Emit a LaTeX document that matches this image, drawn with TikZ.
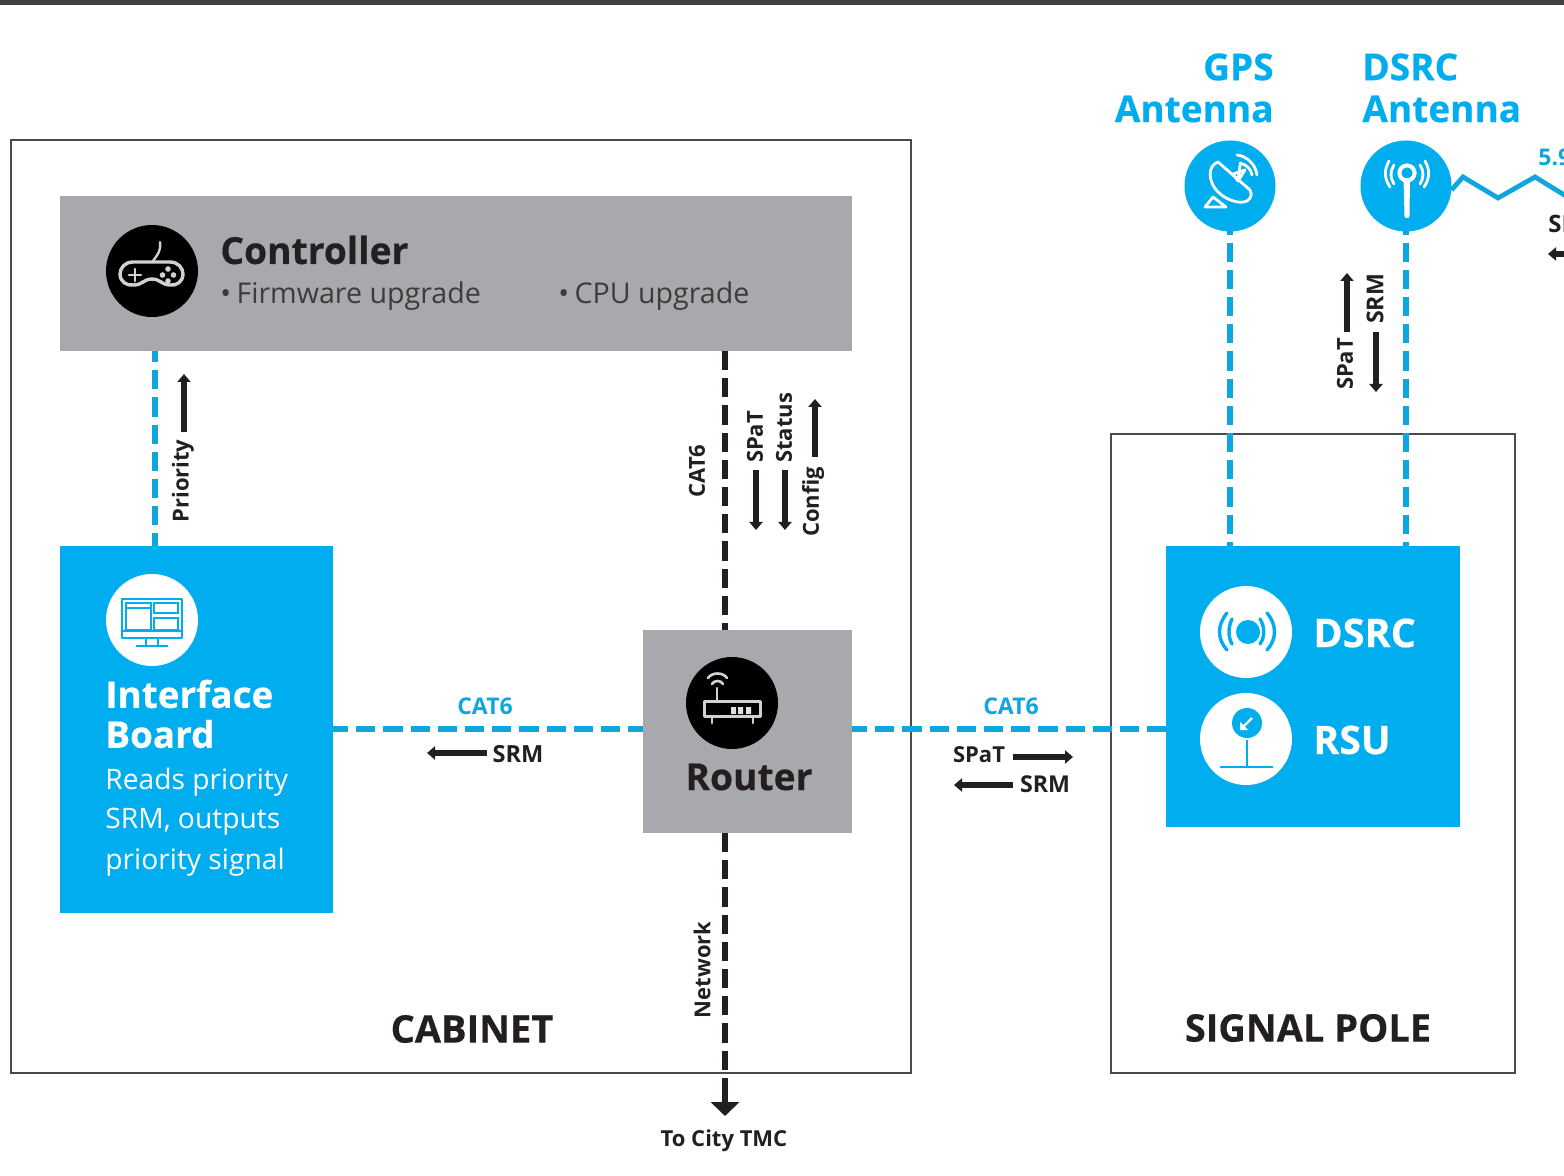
\documentclass[tikz,border=0pt]{standalone}
\usepackage{fontspec}
\setmainfont{Open Sans}
\usetikzlibrary{arrows.meta,calc}
\definecolor{skyb}{HTML}{00AEEF}
\definecolor{linkb}{HTML}{0FA6DE}
\definecolor{boxgray}{HTML}{A7A9AC}
\definecolor{ink}{HTML}{231F20}
\definecolor{frameg}{HTML}{4A4A4C}
\definecolor{topbar}{HTML}{414143}
\newcommand{\fsz}[1]{\fontsize{#1}{#1}\selectfont}
\newcommand{\heavy}{\bfseries\addfontfeature{FakeBold=0.4}}
\tikzset{
  px/.style={x=0.5pt,y=-0.5pt},
  solidbox/.style={inner sep=0,outer sep=0,rectangle},
  disc/.style={circle,inner sep=0,outer sep=0,minimum size=46pt},
  msg/.style={font=\bfseries\fsz{11},text=ink,inner sep=0},
  msgv/.style={msg,rotate=90},
  cablelbl/.style={font=\bfseries\fsz{11.5},text=linkb,inner sep=0},
  head/.style={font=\heavy\fsz{18.5},text=skyb,inner sep=0},
  bigw/.style={font=\heavy\fsz{#1},text=white,inner sep=0,anchor=west},
  bigk/.style={font=\heavy\fsz{#1},text=ink,inner sep=0},
  bodyk/.style={font=\fsz{14.3},text=ink!80!boxgray,inner sep=0,anchor=west},
  bodyw/.style={font=\fsz{14.1},text=white,inner sep=0,anchor=west},
  bluelink/.style={draw=linkb,line width=3pt,dash pattern=on 9.6pt off 4pt,dash phase=4pt},
  blacklink/.style={draw=ink,line width=3.2pt,dash pattern=on 9.6pt off 4pt},
  msgarrow/.style={draw=ink,line width=2.6pt,-{Triangle[length=4pt,width=6.5pt]}},
  iconw/.style={draw=white,line width=1.4pt,line cap=round,line join=round,fill=none},
  icong/.style={draw=black!18,line width=1.7pt,line cap=round,line join=round,fill=none},
}
\begin{document}
\begin{tikzpicture}[px]
\useasboundingbox (0,0) rectangle (1564,1176);
\fill[white] (0,0) rectangle (1564,1176);
\fill[topbar] (0,0) rectangle (1564,5);
\draw[frameg,line width=0.6pt] (11,140) rectangle (911,1073);
\draw[frameg,line width=0.6pt] (1111,434) rectangle (1515,1073);

% boxes
\node[solidbox,fill=boxgray,minimum width=396pt,minimum height=77.5pt] (ctrl) at (456,273.5) {};
\node[solidbox,fill=boxgray,minimum width=104.5pt,minimum height=101.5pt] (router) at (747.5,731.5) {};
\node[solidbox,fill=skyb,minimum width=136.5pt,minimum height=183.5pt] (iface) at (196.5,729.5) {};
\node[solidbox,fill=skyb,minimum width=147pt,minimum height=140.5pt] (dsrcbox) at (1313,686.5) {};
\node[disc,fill=skyb,minimum size=45.5pt] (gps) at (1230,186) {};
\node[disc,fill=skyb,minimum size=45.5pt] (ant) at (1406,186) {};
\node[disc,fill=black] (ctrlicon) at (152,271) {};
\node[disc,fill=black] (routericon) at (732,703) {};
\node[disc,fill=white] (ifaceicon) at (152,620) {};
\node[disc,fill=white] (dsrcicon) at (1246,632) {};
\node[disc,fill=white] (rsuicon) at (1246,739) {};
\coordinate (xprio) at (155,0);
\coordinate (xnet) at (725,0);
\coordinate (ylink) at (0,729);
\coordinate (tmc) at (725,1116);
\coordinate (xgps) at (1230,0);
\coordinate (xant) at (1406,0);

% connectors
\draw[bluelink] (ctrl.south -| xprio) -- (iface.north -| xprio);
\draw[blacklink] (ctrl.south -| xnet) -- (router.north -| xnet);
\coordinate (nete) at (725,1102);
\draw[blacklink,dash phase=0pt] (router.south -| xnet) -- (nete);
\coordinate (netb) at (725,1095);
\draw[ink,line width=3.2pt,-{Triangle[length=7pt,width=14pt]}] (netb) -- (tmc);
\draw[bluelink,dash phase=2pt] (iface.east |- ylink) -- (router.west |- ylink);
\draw[bluelink,dash phase=2pt] (router.east |- ylink) -- (dsrcbox.west |- ylink);
\draw[bluelink,dash phase=8pt] (gps.south) -- (dsrcbox.north -| xgps);
\draw[bluelink,dash phase=8pt] (ant.south) -- (dsrcbox.north -| xant);
\coordinate (wa) at (1463,177); \coordinate (wb) at (1498,198); \coordinate (wc) at (1535,177); \coordinate (wd) at (1566,196);
\draw[linkb,line width=2.4pt,line join=miter] (ant.east) ++(0,4) -- (wa) -- (wb) -- (wc) -- (wd);

% titles
\node[head,anchor=east] at (1274,67) {GPS};
\node[head,anchor=east] at (1274,109) {Antenna};
\node[head,anchor=west] at (1362,67) {DSRC};
\node[head,anchor=west] at (1362,109) {Antenna};
\begin{scope}
\clip (1500,130) rectangle (1564,270);
\node[cablelbl,anchor=west] at (1538,157) {5.9};
\node[msg,font=\bfseries\fsz{12},anchor=west] at (1548,224) {SRM};
\coordinate (rs) at (1580,254); \coordinate (re) at (1548,254);
\draw[msgarrow] (rs) -- (re);
\end{scope}

% box texts
\node[bigk=18.6,anchor=west] at (220,250) {Controller};
\node[bodyk] at (220,296) {•\hspace{-1pt} Firmware upgrade};
\node[bodyk] at (558,296) {•\hspace{-1pt} CPU upgrade};
\node[bigk=18.6] at (749,777) {Router};
\node[bigw=18.4] at (105,694) {Interface};
\node[bigw=18.4] at (105,734) {Board};
\node[bodyw] at (105,782) {Reads priority};
\node[bodyw] at (105,822) {SRM, outputs};
\node[bodyw] at (105,862) {priority signal};
\node[bigw=19.8] at (1313,633) {DSRC};
\node[bigw=19.6] at (1313,740) {RSU};
\node[bigk=19] at (472,1029) {CABINET};
\node[bigk=19] at (1308,1028) {SIGNAL POLE};
\node[msg] at (724,1141) {To City TMC};

% message labels
\node[msgv] at (183,481) {Priority};
\node[msgv] at (697,471) {CAT6};
\node[msgv] at (755,437) {SPaT};
\node[msgv] at (784,428) {Status};
\node[msgv] at (813,502) {Config};
\node[msgv] at (702,970) {Network};
\node[msgv] at (1345,364) {SPaT};
\node[msgv,font=\bfseries\fsz{11.6}] at (1375,299) {SRM};
\node[cablelbl] at (485,706) {CAT6};
\node[cablelbl] at (1011,706) {CAT6};
\node[msg,font=\bfseries\fsz{11.8}] at (518,754) {SRM};
\node[msg] at (979,755) {SPaT};
\node[msg,font=\bfseries\fsz{11.6}] at (1045,784) {SRM};

% message arrows
\coordinate (a1s) at (184,432); \coordinate (a1e) at (184,374); \draw[msgarrow] (a1s) -- (a1e);
\coordinate (a2s) at (756,470); \coordinate (a2e) at (756,530); \draw[msgarrow] (a2s) -- (a2e);
\coordinate (a3s) at (785,470); \coordinate (a3e) at (785,530); \draw[msgarrow] (a3s) -- (a3e);
\coordinate (a4s) at (815,457); \coordinate (a4e) at (815,399); \draw[msgarrow] (a4s) -- (a4e);
\coordinate (a5s) at (487,753); \coordinate (a5e) at (427,753); \draw[msgarrow] (a5s) -- (a5e);
\coordinate (a6s) at (1013,757); \coordinate (a6e) at (1073,757); \draw[msgarrow] (a6s) -- (a6e);
\coordinate (a7s) at (1013,785); \coordinate (a7e) at (954,785); \draw[msgarrow] (a7s) -- (a7e);
\coordinate (a8s) at (1347,332); \coordinate (a8e) at (1347,273); \draw[msgarrow] (a8s) -- (a8e);
\coordinate (a9s) at (1376,332); \coordinate (a9e) at (1376,392); \draw[msgarrow] (a9s) -- (a9e);

% gamepad icon
\draw[icong,line width=1.2pt] (153,261) .. controls (158,254) and (161,251) .. (160,242);
\draw[icong] (133,262) -- (170,262) .. controls (178,262) and (183,268) .. (183,274)
  .. controls (183,282) and (176,286) .. (170,285) .. controls (162,285) and (160,279) .. (152,279)
  .. controls (144,279) and (142,285) .. (134,285) .. controls (127,286) and (120,282) .. (120,274)
  .. controls (120,268) and (125,262) .. (133,262) -- cycle;
\draw[icong,line width=1.4pt] (129,275) -- (141,275) (135,269) -- (135,281);
\fill[black!18] (168,269) circle (1.4pt) (168,281) circle (1.4pt) (162.5,275) circle (1.4pt) (173.5,275) circle (1.4pt);
% router icon
\draw[icong,line width=1.5pt] (704,701) rectangle (760,716);
\draw[icong,line width=1.3pt] (717,701) -- (717,688);
\draw[icong,line width=1.3pt] (712,684) .. controls (714,680) and (721,680) .. (723,684);
\draw[icong,line width=1.3pt] (708,678) .. controls (712,672) and (723,672) .. (727,678);
\fill[black!12] (731,707) rectangle (736,714) (738,707) rectangle (743,714) (746,707) rectangle (751,714);
\draw[icong,line width=1.4pt] (712,717) -- (712,723) (753,717) -- (753,723);
% interface icon
\draw[skyb,line width=0.9pt,line join=round] (122,599) rectangle (182,638);
\draw[skyb,line width=0.9pt] (122,631) -- (182,631);
\draw[skyb,line width=0.9pt] (126,603) rectangle (151,630) (154,603) rectangle (178,613) (154,618) rectangle (178,630);
\draw[skyb,line width=0.9pt] (126,608) -- (151,608);
\draw[skyb,line width=1pt] (146,638) -- (146,645) (158,638) -- (158,645) (136,646) -- (168,646);
% GPS dish icon
\draw[iconw] (1218,162) .. controls (1207,166) and (1208,182) .. (1218,192)
  .. controls (1228,202) and (1246,206) .. (1250,198) .. controls (1252,195) and (1251,192) .. (1250,190) -- cycle;
\draw[iconw] (1233,174) -- (1245,170) (1240,165) -- (1238,181) (1233,174) -- (1238,181) -- (1245,170);
\draw[iconw] (1240,163) .. controls (1247,165) and (1251,169) .. (1252,175);
\draw[iconw] (1237,155) .. controls (1247,156) and (1256,165) .. (1257,175);
\draw[iconw] (1213,197) -- (1205,207) -- (1226,207) -- cycle;
% DSRC antenna icon
\draw[white,line width=2pt] (1407,173) circle (3.8pt);
\fill[white] (1403.5,178) -- (1410,178) -- (1409.5,216) .. controls (1409,219) and (1405,219) .. (1404.5,216) -- cycle;
\draw[iconw] (1394,165) .. controls (1390,171) and (1390,178) .. (1394,184);
\draw[iconw] (1420,165) .. controls (1424,171) and (1424,178) .. (1420,184);
\draw[iconw] (1389,161) .. controls (1384,170) and (1384,178) .. (1390,187);
\draw[iconw] (1425,161) .. controls (1430,170) and (1430,178) .. (1424,187);
% DSRC icon
\fill[skyb] (1248,632) circle (6pt);
\draw[skyb,line width=1.7pt,line cap=round] (1232,619) .. controls (1228,627) and (1228,637) .. (1232,644);
\draw[skyb,line width=1.7pt,line cap=round] (1260,619) .. controls (1265,627) and (1265,637) .. (1260,644);
\draw[skyb,line width=1.7pt,line cap=round] (1227,613) .. controls (1217,625) and (1217,639) .. (1227,650);
\draw[skyb,line width=1.7pt,line cap=round] (1267,613) .. controls (1277,625) and (1277,639) .. (1267,650);
% RSU icon
\fill[skyb] (1247,723) circle (7.5pt);
\draw[white,line width=1.2pt] (1252,718) -- (1243,727);
\fill[white] (1240,730) -- (1240,722) -- (1248,730) -- cycle;
\draw[skyb,line width=1.1pt] (1247,740) -- (1247,767) (1220,767) -- (1273,767);
\end{tikzpicture}
\end{document}
